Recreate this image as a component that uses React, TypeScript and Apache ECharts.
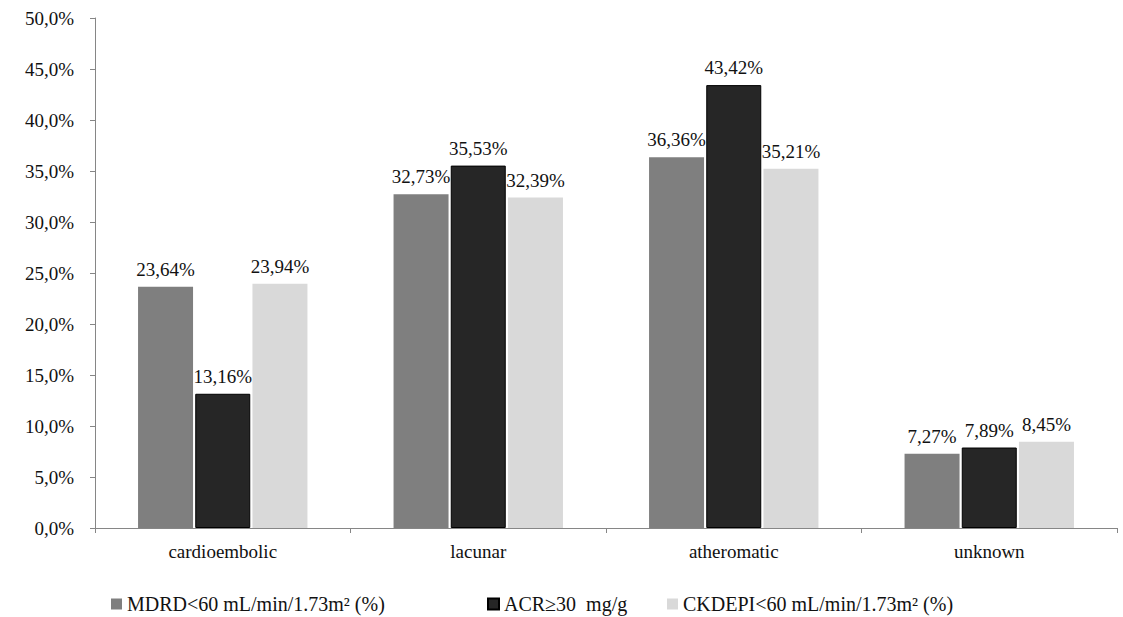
import React, { useEffect, useRef } from "react";
import * as echarts from "echarts";

const categories = ["cardioembolic", "lacunar", "atheromatic", "unknown"];
const seriesNames = [
  "MDRD<60 mL/min/1.73m² (%)",
  "ACR≥30  mg/g",
  "CKDEPI<60 mL/min/1.73m² (%)",
];
const mdrd = [23.64, 32.73, 36.36, 7.27];
const acr = [13.16, 35.53, 43.42, 7.89];
const ckdepi = [23.94, 32.39, 35.21, 8.45];
const yTicks = [0, 5, 10, 15, 20, 25, 30, 35, 40, 45, 50];

const FONT = "'Liberation Serif', 'DejaVu Serif', serif";
const colors = ["#7f7f7f", "#262626", "#d9d9d9"];
const legendLefts = [111, 487, 667];

export default function App() {
  const ref = useRef<HTMLDivElement>(null);
  useEffect(() => {
    if (!ref.current) return;
    const chart = echarts.init(ref.current, undefined, { renderer: "svg" });
    const values = [mdrd, acr, ckdepi];
    chart.setOption({
      animation: false,
      backgroundColor: "#ffffff",
      textStyle: { fontFamily: FONT },
      grid: { left: 95, right: 6, top: 18, bottom: 89, containLabel: false },
      legend: seriesNames.map((name, i) => ({
        top: 594,
        left: legendLefts[i],
        icon: "rect",
        itemWidth: 11,
        itemHeight: 11,
        itemGap: 0,
        padding: 0,
        textStyle: { fontFamily: FONT, fontSize: 20, color: "#111", padding: [0, 0, 0, 0] },
        data: [name],
      })),
      xAxis: {
        type: "category",
        data: categories,
        axisLine: { show: true, lineStyle: { color: "#868686", width: 1 } },
        axisTick: { show: true, length: 5, lineStyle: { color: "#868686" } },
        axisLabel: { fontFamily: FONT, fontSize: 19, color: "#111", margin: 14 },
      },
      yAxis: {
        type: "value",
        min: yTicks[0],
        max: yTicks[yTicks.length - 1],
        interval: 5,
        splitLine: { show: false },
        axisLine: { show: true, lineStyle: { color: "#868686", width: 1 } },
        axisTick: { show: true, length: 5, lineStyle: { color: "#868686" } },
        axisLabel: {
          fontFamily: FONT,
          fontSize: 19,
          color: "#111",
          margin: 21,
          formatter: (v: number) => v.toFixed(1).replace(".", ",") + "%",
        },
      },
      series: seriesNames.map((name, i) => ({
        name,
        type: "bar",
        data: values[i],
        barWidth: 55,
        barGap: "4%",
        itemStyle: {
          color: colors[i],
          borderColor: i === 1 ? "#000" : colors[i],
          borderWidth: i === 1 ? 1 : 0,
        },
        label: {
          show: true,
          position: "top",
          distance: 8,
          fontFamily: FONT,
          fontSize: 19,
          color: "#111",
          formatter: (p: any) => p.value.toFixed(2).replace(".", ",") + "%",
        },
      })),
    });
    return () => chart.dispose();
  }, []);
  return (
    <div
      ref={ref}
      style={{ position: "fixed", left: 0, top: 0, width: 1123, height: 617, background: "#fff" }}
    />
  );
}
